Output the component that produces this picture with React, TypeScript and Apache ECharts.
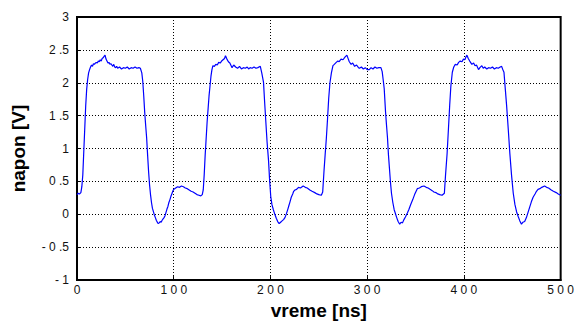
import React, { useEffect, useRef } from "react";
import * as echarts from "echarts";

// time in ns, voltage in V
const pulse1Time = [0, 1.3, 2.5, 4, 5, 6, 7, 8, 9, 10, 11, 12, 13, 14, 15, 16, 17, 18, 19, 20, 21, 22, 23, 24, 25, 26, 27, 28, 29, 30, 31, 32, 33, 34, 35, 36, 37, 38, 39, 40, 41, 42, 44, 46, 48, 50, 52, 54, 56, 58, 60, 62, 64, 65.5];
const pulse1Volt = [0.3, 0.32, 0.31, 0.33, 0.42, 0.6, 0.95, 1.3, 1.65, 1.9, 2.05, 2.15, 2.2, 2.24, 2.27, 2.25, 2.29, 2.28, 2.3, 2.31, 2.3, 2.33, 2.32, 2.35, 2.33, 2.37, 2.38, 2.4, 2.42, 2.36, 2.33, 2.3, 2.31, 2.28, 2.29, 2.27, 2.25, 2.28, 2.24, 2.23, 2.25, 2.22, 2.24, 2.21, 2.23, 2.22, 2.24, 2.21, 2.23, 2.22, 2.24, 2.22, 2.23, 2.22];

const gap1Time = [67, 68, 69, 70, 71, 72, 73, 74, 75, 76, 77, 78, 79, 80, 81, 82, 83, 84, 85, 86, 87, 88, 89, 90, 91, 92, 93, 94, 95, 96, 97, 98, 99, 100, 101, 102, 104, 106, 108, 110, 112, 114, 116, 118, 120, 122, 124, 126, 128, 129.5, 130.5];
const gap1Volt = [2.15, 2.02, 1.8, 1.55, 1.35, 1.16, 0.9, 0.65, 0.45, 0.3, 0.18, 0.09, 0.04, -0.01, -0.05, -0.09, -0.12, -0.14, -0.13, -0.11, -0.12, -0.09, -0.07, -0.05, -0.02, 0.03, 0.08, 0.12, 0.18, 0.22, 0.27, 0.31, 0.35, 0.38, 0.39, 0.4, 0.42, 0.41, 0.43, 0.42, 0.4, 0.39, 0.37, 0.35, 0.34, 0.32, 0.3, 0.29, 0.28, 0.3, 0.37];

const pulse2Time = [131.5, 132.5, 133.5, 134.5, 135.5, 136.5, 137.5, 138.5, 139.5, 140.5, 142, 143.5, 145, 146.5, 148, 149.5, 151, 152.5, 153.5, 155, 156.5, 158, 160.3, 162, 164, 166, 168, 170, 172, 174, 176, 177.4, 179, 181, 183, 185, 187, 189.5];
const pulse2Volt = [0.6, 0.9, 1.15, 1.4, 1.6, 1.8, 1.95, 2.1, 2.2, 2.26, 2.25, 2.28, 2.27, 2.31, 2.3, 2.33, 2.35, 2.37, 2.41, 2.36, 2.32, 2.3, 2.23, 2.27, 2.24, 2.22, 2.25, 2.21, 2.23, 2.22, 2.24, 2.21, 2.23, 2.22, 2.24, 2.22, 2.23, 2.25];

const gap2Time = [191, 192.8, 194, 195.2, 196.5, 198, 199, 200.3, 201.5, 203, 204.5, 206, 207.5, 209, 210.5, 212, 213.5, 215, 216.5, 218, 219, 220.2, 221.5, 223, 224, 225.3, 227, 229, 231, 233.8, 236, 238, 240.7, 243, 245.8, 248, 250, 252.6, 254];
const gap2Volt = [2.15, 2.01, 1.7, 1.41, 1.1, 0.82, 0.55, 0.27, 0.15, 0.07, 0.0, -0.06, -0.11, -0.14, -0.12, -0.1, -0.08, -0.05, 0.01, 0.08, 0.13, 0.19, 0.26, 0.31, 0.35, 0.37, 0.38, 0.41, 0.4, 0.43, 0.41, 0.4, 0.37, 0.35, 0.33, 0.31, 0.3, 0.29, 0.34];

const pulse3Time = [255.4, 256.5, 257.8, 259, 260.2, 261.5, 263, 264.6, 266, 268, 269.7, 271, 273, 275, 277, 279, 280.5, 281.5, 283.4, 285, 287, 289, 291, 292, 294, 296, 298, 300, 302.2, 304, 306, 308, 310, 312, 314.2];
const pulse3Volt = [0.67, 0.9, 1.16, 1.45, 1.76, 2.0, 2.15, 2.26, 2.28, 2.31, 2.33, 2.32, 2.36, 2.35, 2.39, 2.42, 2.36, 2.32, 2.28, 2.3, 2.25, 2.27, 2.23, 2.22, 2.24, 2.21, 2.23, 2.2, 2.2, 2.23, 2.21, 2.24, 2.22, 2.23, 2.23];

const gap3Time = [315.5, 316.5, 317.6, 319, 320, 321, 322, 323, 324, 325.1, 326.5, 327.9, 329, 330.5, 332, 333.6, 335, 336.5, 338, 339.5, 341.5, 343, 345, 347, 349, 351.8, 354, 356, 358.7, 361, 363, 365, 367.2, 369, 371, 373, 375, 377.4, 379.8];
const gap3Volt = [2.17, 2.05, 1.91, 1.55, 1.35, 1.16, 0.9, 0.7, 0.5, 0.32, 0.18, 0.07, 0.02, -0.05, -0.11, -0.15, -0.12, -0.13, -0.08, -0.04, 0.02, 0.07, 0.15, 0.22, 0.3, 0.39, 0.4, 0.42, 0.43, 0.41, 0.4, 0.38, 0.36, 0.34, 0.33, 0.31, 0.3, 0.29, 0.32];

const pulse4Time = [381, 382.6, 384, 385.3, 386.5, 388, 389.5, 391.1, 393, 394.5, 396.2, 398, 399.5, 401, 402, 403.1, 404.5, 406, 408.2, 410, 411.5, 413, 415.1, 416.5, 418.5, 420, 421.5, 423.6, 425.5, 427.5, 429.5, 431.5, 433.5, 435.5, 437.5, 439];
const pulse4Volt = [0.6, 0.92, 1.3, 1.66, 1.95, 2.16, 2.24, 2.28, 2.27, 2.31, 2.33, 2.32, 2.36, 2.35, 2.39, 2.42, 2.37, 2.33, 2.28, 2.3, 2.26, 2.27, 2.2, 2.23, 2.26, 2.22, 2.24, 2.21, 2.23, 2.22, 2.24, 2.21, 2.23, 2.22, 2.24, 2.25];

const gap4Time = [440.2, 441.4, 442.8, 444.1, 445.8, 447.5, 449.2, 451, 452.7, 454.4, 456, 457.8, 459.5, 461, 462.8, 464.6, 466.3, 468, 469.7, 471.5, 473.5, 475, 476.6, 478.5, 480.5, 483.4, 485.5, 487.5, 490.3, 492.5, 495.4, 497.5, 500];
const gap4Volt = [2.2, 2.16, 1.9, 1.66, 1.3, 0.92, 0.6, 0.32, 0.15, 0.04, -0.03, -0.1, -0.15, -0.12, -0.11, -0.05, 0.03, 0.11, 0.19, 0.26, 0.31, 0.35, 0.38, 0.39, 0.41, 0.43, 0.41, 0.4, 0.37, 0.35, 0.33, 0.31, 0.29];

const xTicks = [0, 100, 200, 300, 400, 500];
const yTicks = [-1, -0.5, 0, 0.5, 1, 1.5, 2, 2.5, 3];

const timeNs = [
  ...pulse1Time, ...gap1Time, ...pulse2Time, ...gap2Time,
  ...pulse3Time, ...gap3Time, ...pulse4Time, ...gap4Time,
];
const voltage = [
  ...pulse1Volt, ...gap1Volt, ...pulse2Volt, ...gap2Volt,
  ...pulse3Volt, ...gap3Volt, ...pulse4Volt, ...gap4Volt,
];

const spaced = (s: string) => {
  let out = "";
  for (let i = 0; i < s.length; i++) {
    out += s[i];
    if (i < s.length - 1 && s[i] !== ".") out += " ";
  }
  return out;
};

export default function App() {
  const ref = useRef<HTMLDivElement>(null);
  useEffect(() => {
    if (!ref.current) return;
    const chart = echarts.init(ref.current, null, { renderer: "svg" });
    const font = "Liberation Sans, Arial, sans-serif";
    const split = { show: true, lineStyle: { color: "#000", type: [1, 2] as any, width: 1 } };
    chart.setOption({
      animation: false,
      backgroundColor: "#fff",
      grid: {
        left: 77, right: 12, top: 17, bottom: 40,
        show: true, borderColor: "#000", borderWidth: 2, backgroundColor: "transparent",
      },
      xAxis: {
        type: "value",
        min: xTicks[0], max: xTicks[xTicks.length - 1], interval: 100,
        name: "vreme [ns]", nameLocation: "middle", nameGap: 17,
        nameTextStyle: { fontFamily: font, fontSize: 19, fontWeight: "bold", color: "#000" },
        axisLine: { show: true, onZero: false, lineStyle: { color: "#000", width: 2 } },
        axisTick: { show: true, inside: true, length: 4, lineStyle: { color: "#000" } },
        axisLabel: {
          fontFamily: font, fontSize: 12, color: "#111", margin: 4,
          formatter: (v: number) => spaced(String(v)),
        },
        splitLine: split,
      },
      yAxis: {
        type: "value",
        min: yTicks[0], max: yTicks[yTicks.length - 1], interval: 0.5,
        name: "napon [V]", nameLocation: "middle", nameGap: 49,
        nameTextStyle: { fontFamily: font, fontSize: 19, fontWeight: "bold", color: "#000" },
        axisLine: { show: true, onZero: false, lineStyle: { color: "#000", width: 2 } },
        axisTick: { show: true, inside: true, length: 4, lineStyle: { color: "#000" } },
        axisLabel: {
          fontFamily: font, fontSize: 12, color: "#111", margin: 8,
          formatter: (v: number) => spaced(String(v)),
        },
        splitLine: split,
      },
      series: [
        {
          type: "line",
          data: timeNs.map((t, i) => [t, voltage[i]]),
          showSymbol: false,
          lineStyle: { color: "#0000ff", width: 1.2 },
          itemStyle: { color: "#0000ff" },
        },
      ],
    });
    return () => chart.dispose();
  }, []);
  return <div ref={ref} style={{ width: 577, height: 325, position: "absolute", left: 0, top: 0 }} />;
}
